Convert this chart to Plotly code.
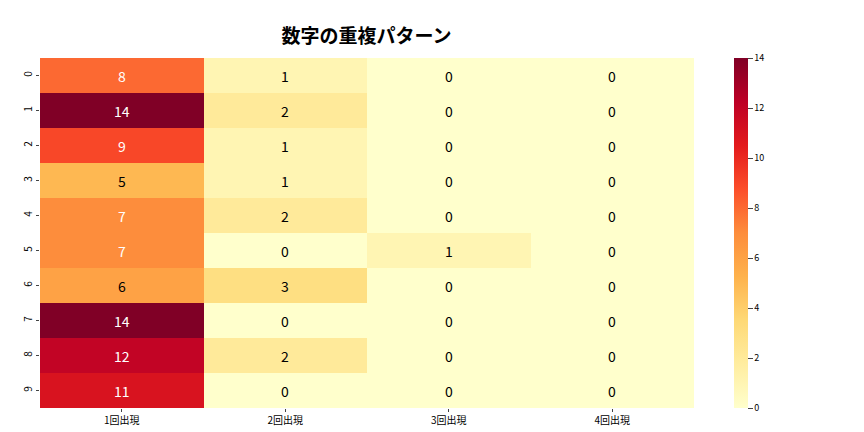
import plotly.graph_objects as go

cols = ["1回出現", "2回出現", "3回出現", "4回出現"]
rows = [str(i) for i in range(10)]
c1 = [8, 14, 9, 5, 7, 7, 6, 14, 12, 11]
c2 = [1, 2, 1, 1, 2, 0, 3, 0, 2, 0]
c3 = [0, 0, 0, 0, 0, 1, 0, 0, 0, 0]
c4 = [0, 0, 0, 0, 0, 0, 0, 0, 0, 0]

z = [[c1[i], c2[i], c3[i], c4[i]] for i in range(10)]

fig = go.Figure(go.Heatmap(
    z=z, x=cols, y=rows, colorscale="YlOrRd", zmin=0, zmax=14,
    colorbar=dict(x=1.061, xanchor="left", thickness=14, len=1, lenmode="fraction",
                  y=0.5, yanchor="middle", ypad=0, xpad=0,
                  outlinewidth=0, tickfont=dict(size=9, color="black"), dtick=2, ticks="outside")))

ann = []
for i, r in enumerate(rows):
    for j, c in enumerate(cols):
        v = z[i][j]
        ann.append(dict(x=c, y=r, text=str(v), showarrow=False,
                        font=dict(size=14, color="white" if v >= 7 else "black")))

fig.update_layout(
    width=864, height=432, margin=dict(l=32, r=178, t=50, b=32, autoexpand=False),
    plot_bgcolor="white", paper_bgcolor="white",
    font=dict(family="Noto Sans CJK JP", color="black"),
    title=dict(text="<b>数字の重複パターン</b>", x=0.415, xanchor="center", y=0.95,
               font=dict(size=19, color="black")),
    annotations=ann)
fig.update_xaxes(showgrid=True, gridcolor="white", tickfont=dict(size=10), ticks="outside", ticklen=3)
fig.update_yaxes(autorange="reversed", showgrid=True, gridcolor="white", tickangle=-90,
                 tickfont=dict(size=10), ticks="outside", ticklen=3)
fig.write_html("out.html")
